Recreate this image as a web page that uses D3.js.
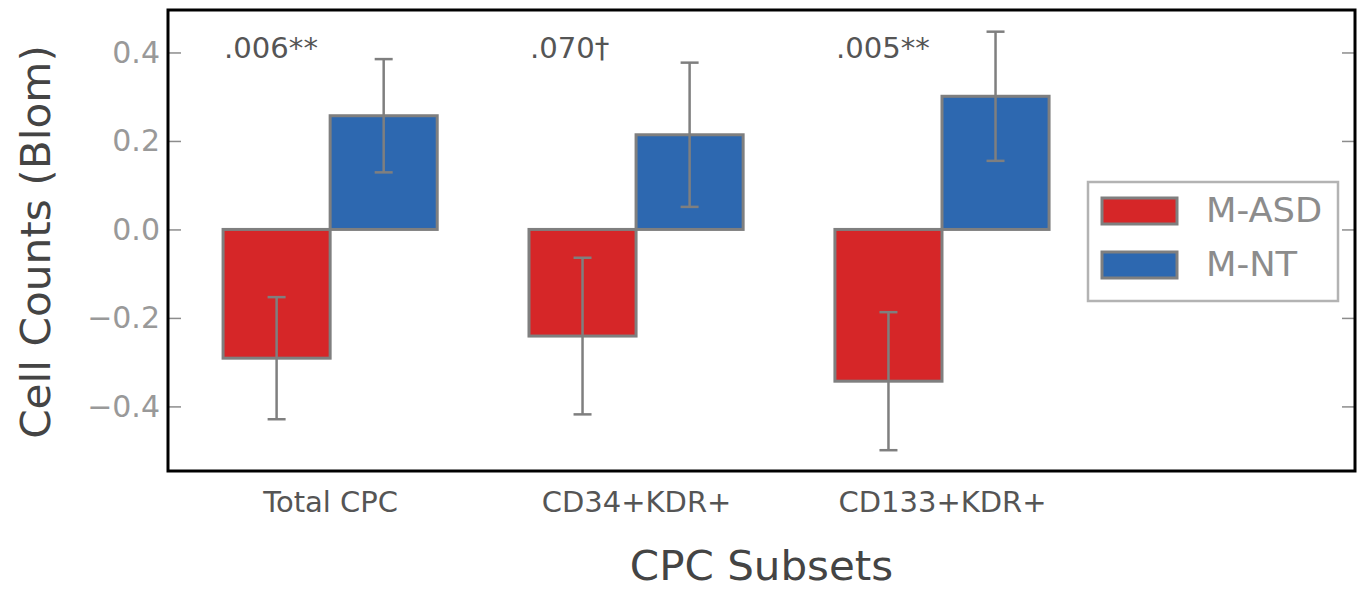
<!DOCTYPE html>
<html>
<head>
<meta charset="utf-8">
<script src="https://cdn.jsdelivr.net/npm/d3@7"></script>
<style>
  body { margin: 0; background: #fff; }
  svg { display: block; font-family: "DejaVu Sans", sans-serif; }
</style>
</head>
<body>
<svg width="1360" height="591"></svg>
<script>
const WIDTH = 1360
const HEIGHT = 591

// data
const categories = ['Total CPC', 'CD34+KDR+', 'CD133+KDR+']
const asdMean = [-0.291, -0.241, -0.343]
const asdErr = [0.138, 0.177, 0.156]
const ntMean = [0.257, 0.214, 0.301]
const ntErr = [0.128, 0.163, 0.146]
const pLabels = ['.006**', '.070\u2020', '.005**']
const yTicks = [-0.4, -0.2, 0.0, 0.2, 0.4]
const seriesNames = ['M-ASD', 'M-NT']
const seriesColors = ['#d62628', '#2d68b0']

const margin = {left: 168, right: 5, top: 10, bottom: 120}
const BAR_W = 0.35
const EDGE = '#7f7f7f'

const svg = d3.select('svg')

const x = d3.scaleLinear()
    .domain([-0.53, 3.35])
    .range([margin.left, WIDTH - margin.right])

const y = d3.scaleLinear()
    .domain([-0.546, 0.496])
    .range([HEIGHT - margin.bottom, margin.top])

// text helper that lets me widen glyphs a bit to match the source rendering
const addText = function(g, str, tx, ty, opts) {
    let t = g.append('text')
        .attr('transform', `translate(${tx},${ty})` + (opts.rotate ? ` rotate(${opts.rotate})` : '') + ` scale(${opts.sx || 1},1)`)
        .attr('font-size', opts.size)
        .attr('fill', opts.color)
        .attr('text-anchor', opts.anchor || 'start')
        .text(str)
    return t
}

// bars
const rows = categories.map((c, i) => ({
    i: i,
    vals: [
        {s: 0, mean: asdMean[i], err: asdErr[i], x0: i - BAR_W},
        {s: 1, mean: ntMean[i], err: ntErr[i], x0: i}
    ]
}))

const bars = svg.append('g')
rows.forEach(row => {
    row.vals.forEach(v => {
        bars.append('rect')
            .attr('x', x(v.x0))
            .attr('width', x(v.x0 + BAR_W) - x(v.x0))
            .attr('y', y(Math.max(0, v.mean)))
            .attr('height', Math.abs(y(v.mean) - y(0)))
            .attr('fill', seriesColors[v.s])
            .attr('stroke', EDGE)
            .attr('stroke-width', 3)
    })
})

// error bars
const errs = svg.append('g')
    .attr('stroke', EDGE)
    .attr('stroke-width', 2.5)
rows.forEach(row => {
    row.vals.forEach(v => {
        let cx = x(v.x0 + BAR_W / 2)
        errs.append('line')
            .attr('x1', cx).attr('x2', cx)
            .attr('y1', y(v.mean - v.err)).attr('y2', y(v.mean + v.err))
        errs.append('line')
            .attr('x1', cx - 9).attr('x2', cx + 9)
            .attr('y1', y(v.mean - v.err)).attr('y2', y(v.mean - v.err))
        errs.append('line')
            .attr('x1', cx - 9).attr('x2', cx + 9)
            .attr('y1', y(v.mean + v.err)).attr('y2', y(v.mean + v.err))
    })
})

// p-value annotations
const notes = svg.append('g')
pLabels.forEach((p, i) => {
    addText(notes, p, x(i - BAR_W) + 1, y(0.387), {size: 28, color: '#555', sx: 1.04})
})

// y axis, ticks point inward
const yAxis = svg.append('g')
    .attr('transform', `translate(${margin.left},0)`)
    .call(d3.axisLeft(y).tickValues(yTicks).tickSize(-13).tickPadding(8).tickFormat(d3.format('.1f')))
yAxis.select('.domain').remove()
yAxis.selectAll('line').attr('stroke', '#8c8c8c').attr('stroke-width', 1.5)
yAxis.selectAll('text')
    .attr('font-size', 30)
    .attr('fill', '#999')
    .attr('font-family', '"DejaVu Sans", sans-serif')

const yRight = svg.append('g')
    .attr('transform', `translate(${WIDTH - margin.right},0)`)
    .call(d3.axisRight(y).tickValues(yTicks).tickSize(-13).tickFormat(''))
yRight.select('.domain').remove()
yRight.selectAll('line').attr('stroke', '#8c8c8c').attr('stroke-width', 1.5)

// x axis labels only
const xAxis = svg.append('g')
    .attr('transform', `translate(0,${HEIGHT - margin.bottom})`)
    .call(d3.axisBottom(x).tickValues(d3.range(categories.length)).tickSize(0).tickPadding(20).tickFormat(i => categories[i]))
xAxis.select('.domain').remove()
xAxis.selectAll('text')
    .attr('font-size', 29)
    .attr('fill', '#555')
    .attr('font-family', '"DejaVu Sans", sans-serif')

// frame
svg.append('rect')
    .attr('x', margin.left)
    .attr('y', margin.top)
    .attr('width', WIDTH - margin.right - margin.left)
    .attr('height', HEIGHT - margin.bottom - margin.top)
    .attr('fill', 'none')
    .attr('stroke', '#000')
    .attr('stroke-width', 3)

// axis titles
const mid = (margin.left + WIDTH - margin.right) / 2
addText(svg, 'CPC Subsets', mid, 580, {size: 40, color: '#444', anchor: 'middle', sx: 1.05})
addText(svg, 'Cell Counts (Blom)', 50, 242, {size: 41, color: '#444', anchor: 'middle', rotate: -90, sx: 1.03})

// legend
const legend = svg.append('g')
legend.append('rect')
    .attr('x', 1088).attr('y', 182)
    .attr('width', 250).attr('height', 119)
    .attr('fill', '#fff')
    .attr('stroke', '#b3b3b3')
    .attr('stroke-width', 2.5)
seriesNames.forEach((name, i) => {
    let ly = 198 + i * 54
    legend.append('rect')
        .attr('x', 1102).attr('y', ly)
        .attr('width', 75).attr('height', 26)
        .attr('fill', seriesColors[i])
        .attr('stroke', EDGE)
        .attr('stroke-width', 3)
    addText(legend, name, 1206, ly + 24, {size: 33, color: '#8c8c8c', sx: 1.07})
})
</script>
</body>
</html>
